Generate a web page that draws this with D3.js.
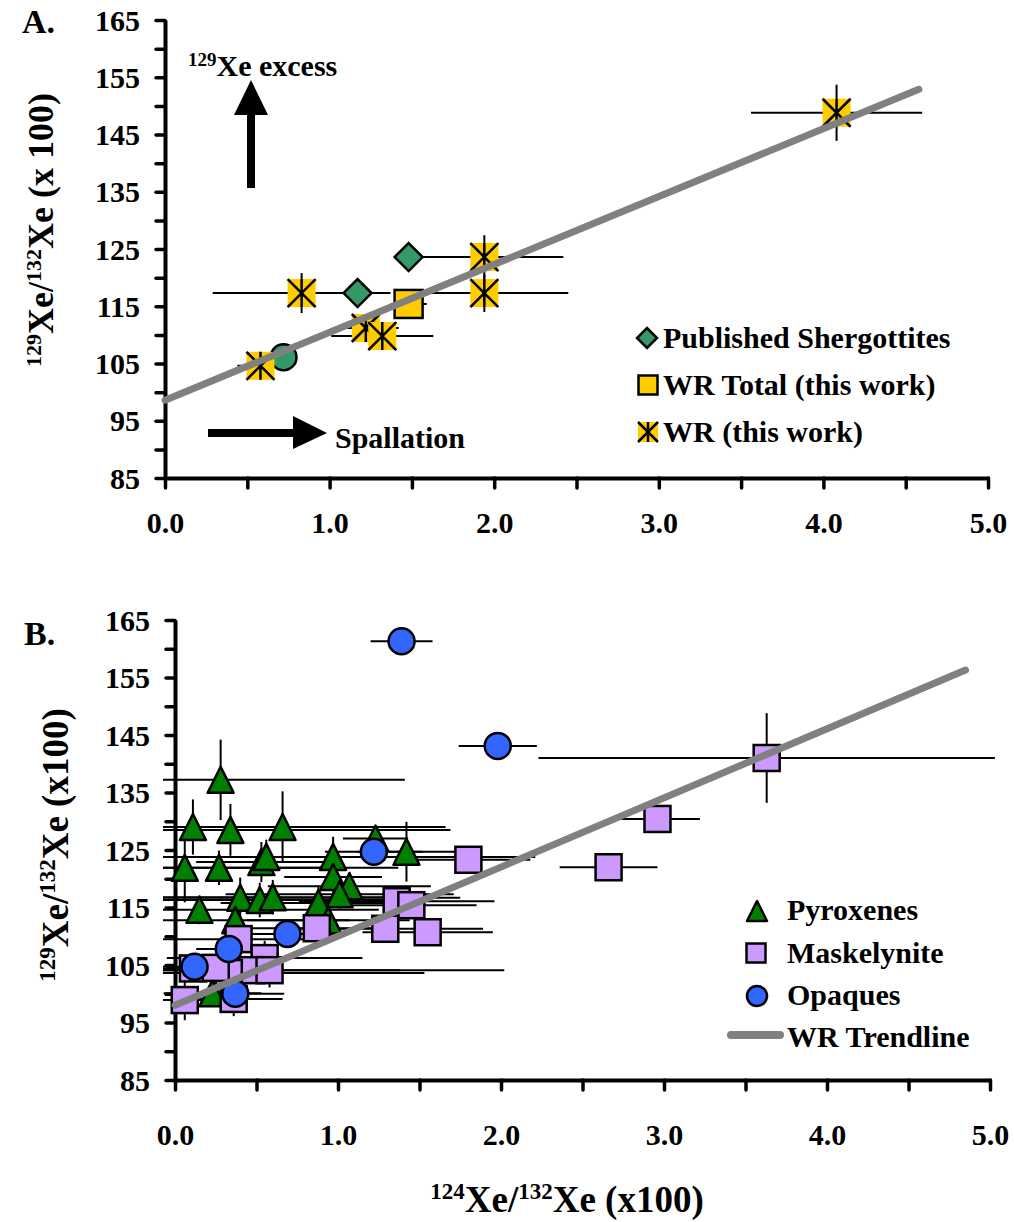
<!DOCTYPE html>
<html>
<head>
<meta charset="utf-8">
<script src="https://cdn.jsdelivr.net/npm/d3@7"></script>
<style>
  body { margin: 0; background: #fff; }
  text { font-family: "Liberation Serif", "Times New Roman", serif; font-weight: bold; fill: #000; }
</style>
</head>
<body>
<div id="chart"></div>
<script>
// ---- Panel A data: [x, y, xErr, yErr] ----
var shergottites = [[1.48, 123.6, 0, 0], [1.17, 117.3, 0.07, 1.5]];
var shergottyCircle = [[0.72, 106.1]];
var wrTotal = [[1.48, 115.4, 0.11, 0]];
var wrStars = [
  [4.08, 148.8, 0.52, 4.9], [1.94, 123.6, 0.48, 3.8], [1.94, 117.3, 0.51, 3.3],
  [0.83, 117.3, 0.54, 3.5], [1.22, 111.2, 0.2, 1.8], [1.32, 109.8, 0.31, 1.8],
  [0.58, 104.6, 0.14, 1.5]
];
var trendA = [[0, 98.6], [4.58, 152.9]];

// ---- Panel B data: [x, y, xErr, yErr] ----
var pyroxenes = [
  [0.28, 137.2, 1.13, 7], [0.11, 129.0, 0.3, 4.8], [0.34, 128.5, 1.35, 4.5], [0.66, 129.0, 1.0, 6.2],
  [0.06, 121.9, 0.9, 6], [0.27, 121.9, 1.1, 3], [0.53, 122.9, 0.4, 3.5], [0.56, 123.8, 1.65, 3],
  [0.97, 123.8, 0.9, 3.5], [1.23, 127.0, 0.2, 2], [1.42, 124.7, 0.3, 5.2], [0.97, 120.3, 0.3, 3],
  [1.07, 118.7, 0.5, 2.5], [1.01, 117.3, 0.7, 2.5], [0.15, 114.6, 1.1, 2.5], [0.40, 116.7, 1.35, 3.5],
  [0.52, 116.3, 0.9, 3], [0.60, 116.8, 0.8, 3], [0.88, 115.8, 0.6, 3], [0.37, 112.8, 0.7, 3],
  [0.94, 112.8, 0.5, 2.5], [0.23, 100.1, 0.3, 2]
];
var maskelynite = [
  [3.63, 141.0, 1.4, 7.8], [2.96, 130.4, 0.26, 1], [2.66, 122.0, 0.3, 1.5], [1.80, 123.3, 0.38, 1.5],
  [1.36, 116.1, 0.6, 1.5], [1.45, 115.4, 0.4, 2], [1.29, 111.3, 0.6, 2], [1.55, 110.7, 0.4, 1.5],
  [0.87, 111.4, 0.5, 2], [0.39, 109.5, 0.5, 2], [0.55, 106.2, 0.6, 3], [0.47, 104.1, 1.55, 2],
  [0.58, 104.1, 0.8, 3], [0.33, 103.6, 1.2, 3], [0.11, 104.4, 0.5, 2], [0.25, 104.5, 0.3, 2],
  [0.06, 98.9, 0.2, 3.5], [0.36, 99.1, 0.3, 3]
];
var opaques = [
  [1.39, 161.3, 0.19, 0.8], [1.98, 143.1, 0.24, 1], [1.22, 124.7, 0.3, 1], [0.69, 110.4, 0.35, 1.5],
  [0.33, 107.8, 0.2, 1.5], [0.12, 104.7, 0.2, 2], [0.37, 100.0, 0.3, 1]
];
var trendB = [[0, 98.0], [4.85, 156.3]];

var yMajor = [85, 95, 105, 115, 125, 135, 145, 155, 165];
var yMinor = [90, 100, 110, 120, 130, 140, 150, 160];
var xTicks = [0, 0.5, 1, 1.5, 2, 2.5, 3, 3.5, 4, 4.5, 5];
var xLabeled = [0, 1, 2, 3, 4, 5];

var svg = d3.select("#chart").append("svg").attr("width", 1014).attr("height", 1222);

var xA = d3.scaleLinear().domain([0, 5]).range([165, 988]);
var yA = d3.scaleLinear().domain([85, 165]).range([478, 20]);
var xB = d3.scaleLinear().domain([0, 5]).range([175, 990]);
var yB = d3.scaleLinear().domain([85, 165]).range([1080, 620]);

// error bars are cut a little left of the y axis, as in the original
svg.append("clipPath").attr("id", "clipA").append("rect")
  .attr("x", xA(0) - 12).attr("y", 0).attr("width", 1014).attr("height", yA(85));
svg.append("clipPath").attr("id", "clipB").append("rect")
  .attr("x", xB(0) - 12).attr("y", yB(165) - 20).attr("width", 1014).attr("height", yB(85) - yB(165) + 20);

function drawAxes(x, y, labelRight, labelGap) {
  var x0 = x.range()[0], y0 = y.range()[0];
  svg.append("g").attr("transform", "translate(" + x0 + ",0)")
    .call(d3.axisLeft(y).tickValues(yMinor).tickFormat("").tickSize(9).tickSizeOuter(0))
    .call(g => g.select(".domain").remove());
  var gy = svg.append("g").attr("transform", "translate(" + x0 + ",0)")
    .call(d3.axisLeft(y).tickValues(yMajor).tickFormat(d3.format("d")).tickSize(9).tickSizeOuter(0));
  gy.selectAll("text").attr("x", labelRight - x0).style("font-size", "30px").attr("dy", "0.34em");
  var gx = svg.append("g").attr("transform", "translate(0," + y0 + ")")
    .call(d3.axisBottom(x).tickValues(xTicks).tickFormat(d => xLabeled.indexOf(d) >= 0 ? d3.format(".1f")(d) : "")
      .tickSize(10).tickSizeOuter(0));
  gx.selectAll("text").attr("y", labelGap).attr("dy", "0.71em").style("font-size", "30px");
  [gy, gx].forEach(g => {
    g.attr("font-family", null).attr("font-size", null);
    g.select(".domain").attr("stroke", "#000").attr("stroke-width", 4);
  });
  svg.selectAll(".tick line").attr("stroke", "#000").attr("stroke-width", 3.5).attr("stroke-linecap", "round");
}

function errorBars(g, data, x, y, color) {
  data.forEach(d => {
    if (d[2] > 0) g.append("line").attr("x1", x(d[0] - d[2])).attr("x2", x(d[0] + d[2]))
      .attr("y1", y(d[1])).attr("y2", y(d[1])).attr("stroke", color || "#000").attr("stroke-width", 2);
    if (d[3] > 0) g.append("line").attr("x1", x(d[0])).attr("x2", x(d[0]))
      .attr("y1", y(d[1] - d[3])).attr("y2", y(d[1] + d[3])).attr("stroke", color || "#000").attr("stroke-width", 2);
  });
}

function square(g, cx, cy, s, fill) {
  g.append("rect").attr("x", cx - s / 2).attr("y", cy - s / 2).attr("width", s).attr("height", s)
    .attr("fill", fill).attr("stroke", "#000").attr("stroke-width", 2.5);
}
function diamond(g, cx, cy, s, fill) {
  var h = s / 2;
  g.append("path").attr("d", `M${cx},${cy - h}L${cx + h},${cy}L${cx},${cy + h}L${cx - h},${cy}Z`)
    .attr("fill", fill).attr("stroke", "#000").attr("stroke-width", 2.5);
}
function star(g, cx, cy, s) {
  var h = s / 2;
  g.append("rect").attr("x", cx - h).attr("y", cy - h).attr("width", s).attr("height", s).attr("fill", "#FFCC00");
  g.append("path").attr("d", `M${cx - h},${cy - h}L${cx + h},${cy + h}M${cx + h},${cy - h}L${cx - h},${cy + h}M${cx},${cy - h}L${cx},${cy + h}`)
    .attr("stroke", "#000").attr("stroke-width", 2.5);
}
function triangle(g, cx, cy, s, fill) {
  var h = s / 2;
  g.append("path").attr("d", `M${cx},${cy - h}L${cx + h},${cy + h}L${cx - h},${cy + h}Z`)
    .attr("fill", fill).attr("stroke", "#000").attr("stroke-width", 2.5).attr("stroke-linejoin", "round");
}
function circle(g, cx, cy, r, fill) {
  g.append("circle").attr("cx", cx).attr("cy", cy).attr("r", r)
    .attr("fill", fill).attr("stroke", "#000").attr("stroke-width", 2.5);
}

// text with superscripts: parts = [[text, isSup], ...]
function richText(g, parts, size, supSize) {
  parts.forEach(p => {
    g.append("tspan").text(p[0]).style("font-size", (p[1] ? supSize : size) + "px")
      .attr("baseline-shift", p[1] ? "55%" : null);
  });
}

var line = (x, y) => d3.line().x(d => x(d[0])).y(d => y(d[1]));

// ================= Panel A =================
drawAxes(xA, yA, 140, 34);
var gA = svg.append("g");
var errA = gA.append("g").attr("clip-path", "url(#clipA)");
errorBars(errA, wrStars, xA, yA);
errorBars(errA, wrTotal, xA, yA);
errorBars(errA, shergottites, xA, yA, "#33CCCC");
shergottyCircle.forEach(d => circle(gA, xA(d[0]), yA(d[1]), 13, "#339966"));
wrStars.forEach(d => star(gA, xA(d[0]), yA(d[1]), 28));
shergottites.forEach(d => diamond(gA, xA(d[0]), yA(d[1]), 28, "#339966"));
wrTotal.forEach(d => square(gA, xA(d[0]), yA(d[1]), 28, "#FFCC00"));

svg.append("path").datum(trendA).attr("d", line(xA, yA))
  .attr("stroke", "#808080").attr("stroke-width", 7).attr("stroke-linecap", "round").attr("fill", "none");

svg.append("text").attr("x", 22).attr("y", 33).style("font-size", "34px").text("A.");
var tA = svg.append("text").attr("transform", "translate(53,230) rotate(-90)").attr("text-anchor", "middle");
richText(tA, [["129", true], ["Xe/", false], ["132", true], ["Xe (x 100)", false]], 36, 22);

// annotations
var tEx = svg.append("text").attr("x", 188).attr("y", 76);
richText(tEx, [["129", true], ["Xe excess", false]], 30, 19);
svg.append("path").attr("d", "M247,188L247,115L234,115L251,80L268,115L255,115L255,188Z").attr("fill", "#000");
svg.append("path").attr("d", "M208,429L293,429L293,416L327,433L293,449L293,437L208,437Z").attr("fill", "#000");
svg.append("text").attr("x", 335).attr("y", 448).style("font-size", "30px").text("Spallation");

// legend A
var legA = svg.append("g");
diamond(legA, 647, 338, 20, "#339966");
square(legA, 648, 385, 19, "#FFCC00");
star(legA, 648, 432, 20);
legA.append("text").attr("x", 663).attr("y", 348).style("font-size", "30px").text("Published Shergottites");
legA.append("text").attr("x", 663).attr("y", 395).style("font-size", "30px").text("WR Total (this work)");
legA.append("text").attr("x", 663).attr("y", 442).style("font-size", "30px").text("WR (this work)");

// ================= Panel B =================
drawAxes(xB, yB, 150, 44);
var gB = svg.append("g");
var errB = gB.append("g").attr("clip-path", "url(#clipB)");
errorBars(errB, pyroxenes, xB, yB);
errorBars(errB, maskelynite, xB, yB);
errorBars(errB, opaques, xB, yB);
pyroxenes.forEach(d => triangle(gB, xB(d[0]), yB(d[1]), 26, "#008000"));
maskelynite.forEach(d => square(gB, xB(d[0]), yB(d[1]), 26, "#CC99FF"));
opaques.forEach(d => circle(gB, xB(d[0]), yB(d[1]), 13, "#3366FF"));
svg.append("path").datum(trendB).attr("d", line(xB, yB))
  .attr("stroke", "#808080").attr("stroke-width", 7).attr("stroke-linecap", "round").attr("fill", "none");

svg.append("text").attr("x", 24).attr("y", 645).style("font-size", "34px").text("B.");
var tB = svg.append("text").attr("transform", "translate(68,845) rotate(-90)").attr("text-anchor", "middle");
richText(tB, [["129", true], ["Xe/", false], ["132", true], ["Xe (x100)", false]], 37, 23);
var tX = svg.append("text").attr("x", 567).attr("y", 1212).attr("text-anchor", "middle");
richText(tX, [["124", true], ["Xe/", false], ["132", true], ["Xe (x100)", false]], 37, 23);

// legend B
var legB = svg.append("g");
triangle(legB, 757, 911, 20, "#008000");
square(legB, 756, 953, 19, "#CC99FF");
circle(legB, 757, 996, 10, "#3366FF");
legB.append("line").attr("x1", 731).attr("x2", 780).attr("y1", 1035).attr("y2", 1035)
  .attr("stroke", "#808080").attr("stroke-width", 8).attr("stroke-linecap", "round");
legB.append("text").attr("x", 787).attr("y", 920).style("font-size", "30px").text("Pyroxenes");
legB.append("text").attr("x", 787).attr("y", 963).style("font-size", "30px").text("Maskelynite");
legB.append("text").attr("x", 787).attr("y", 1005).style("font-size", "30px").text("Opaques");
legB.append("text").attr("x", 787).attr("y", 1047).style("font-size", "30px").text("WR Trendline");
</script>
</body>
</html>
